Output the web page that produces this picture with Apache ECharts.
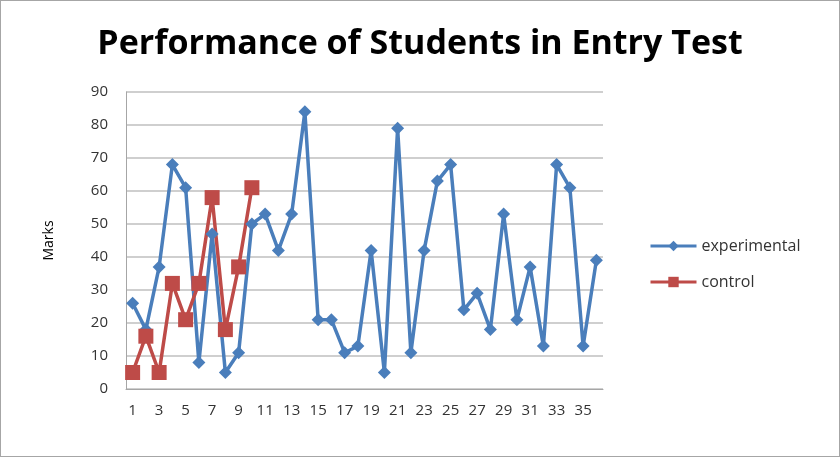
<!DOCTYPE html>
<html>
<head>
<meta charset="utf-8">
<script src="https://cdn.jsdelivr.net/npm/echarts@6/dist/echarts.min.js"></script>
<style>
  html, body { margin: 0; padding: 0; background: #fff; }
  #chart { width: 840px; height: 457px; box-sizing: border-box; border: 1px solid #a6a6a6; }
</style>
</head>
<body>
<div id="chart"></div>
<script>
var categories = [];
for (var i = 1; i <= 36; i++) categories.push(String(i));

var experimental = [26, 18, 37, 68, 61, 8, 47, 5, 11, 50, 53, 42, 53, 84, 21, 21, 11, 13,
  42, 5, 79, 11, 42, 63, 68, 24, 29, 18, 53, 21, 37, 13, 68, 61, 13, 39];
var control = [5, 16, 5, 32, 21, 32, 58, 18, 37, 61];

var chart = echarts.init(document.getElementById("chart"));
var font = "'Open Sans', Lato, sans-serif";

var option = {
  animation: false,
  title: {
    text: "Performance of Students in Entry Test",
    left: "center",
    top: 21,
    textStyle: { fontFamily: font, fontSize: 34, fontWeight: "bold", color: "#000" }
  },
  legend: {
    orient: "vertical",
    left: 643,
    top: 232,
    itemWidth: 46,
    itemHeight: 13,
    itemGap: 20,
    textStyle: { fontFamily: font, fontSize: 16, color: "#333" },
    lineStyle: { width: 3 },
    data: ["experimental", "control"]
  },
  grid: { left: 125, right: 236, top: 91, bottom: 67 },
  xAxis: {
    type: "category",
    data: categories,
    boundaryGap: true,
    axisLine: { lineStyle: { color: "#a6a6a6" } },
    axisTick: { show: false },
    axisLabel: { interval: 1, color: "#333", fontFamily: font, fontSize: 15, margin: 14 }
  },
  yAxis: {
    type: "value",
    min: 0,
    max: 90,
    interval: 10,
    name: "Marks",
    nameLocation: "middle",
    nameGap: 70,
    nameTextStyle: { fontFamily: font, fontSize: 14, color: "#000" },
    axisLine: { show: true, lineStyle: { color: "#a6a6a6" } },
    axisTick: { show: false },
    axisLabel: { color: "#333", fontFamily: font, fontSize: 15, margin: 18 },
    splitLine: { lineStyle: { color: "#bfbfbf", width: 1.5 } }
  },
  series: [
    {
      name: "experimental",
      type: "line",
      data: experimental,
      symbol: "diamond",
      symbolSize: 13,
      showAllSymbol: true,
      lineStyle: { color: "#4a7ebb", width: 3.5 },
      itemStyle: { color: "#4a7ebb" }
    },
    {
      name: "control",
      type: "line",
      data: control,
      symbol: "rect",
      symbolSize: 15,
      showAllSymbol: true,
      lineStyle: { color: "#be4b48", width: 3.5 },
      itemStyle: { color: "#be4b48" }
    }
  ]
};

chart.setOption(option);
</script>
</body>
</html>
